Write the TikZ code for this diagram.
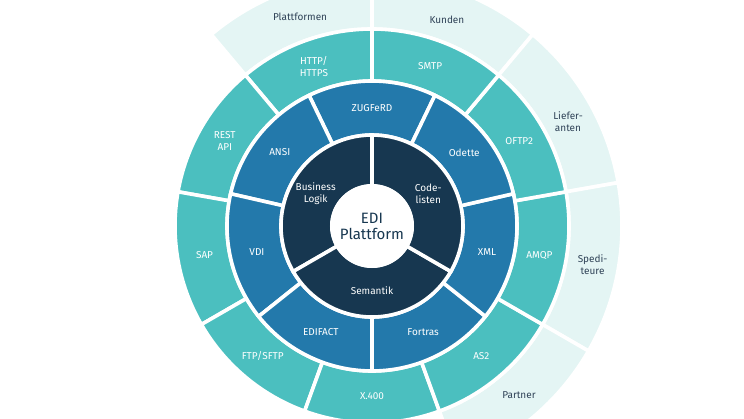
\documentclass[tikz,border=0pt]{standalone}
\usepackage{fontspec}
\setmainfont{Fira Sans}
\definecolor{lightc}{HTML}{E4F5F4}
\definecolor{tealc}{HTML}{4BBFBF}
\definecolor{bluec}{HTML}{2379AB}
\definecolor{darkc}{HTML}{173750}
\definecolor{labc}{HTML}{2F4257}
\newcommand\ringseg[5]{%
  \path[segstyle, fill=#1] (#4:#2pt) arc[start angle=#4, end angle=#5, radius=#2pt]
    -- (#5:#3pt) arc[start angle=#5, end angle=#4, radius=#3pt] -- cycle;}
\begin{document}
\begin{tikzpicture}[
  segstyle/.style={draw=white, line width=3.6pt, line join=miter},
  inlab/.style={text=white, font=\fontsize{10}{12}\selectfont, align=center, inner sep=0pt},
  outlab/.style={text=labc, font=\fontsize{10}{12}\selectfont, align=center, inner sep=0pt},
  centerlab/.style={text=darkc, font=\fontsize{15}{16}\selectfont, align=center, inner sep=0pt}
]
\useasboundingbox (-372pt,-192pt) rectangle (372pt,226pt);
\clip (-372pt,-192pt) rectangle (372pt,226pt);
% outer light ring
\ringseg{lightc}{197}{250}{90}{130}
\ringseg{lightc}{197}{250}{50}{90}
\ringseg{lightc}{197}{250}{10}{50}
\ringseg{lightc}{197}{250}{-30}{10}
\ringseg{lightc}{197}{250}{-70}{-30}
% teal ring
\foreach \a in {90,130,170,210,250,290,330,370,410}{
  \pgfmathsetmacro\b{\a+40}
  \ringseg{tealc}{145}{197}{\a}{\b}
}
% blue ring
\foreach \i in {0,...,6}{
  \pgfmathsetmacro\a{64.2857+51.4286*\i}
  \pgfmathsetmacro\b{\a+51.4286}
  \ringseg{bluec}{145}{91}{\a}{\b}
}
% dark ring
\ringseg{darkc}{40}{91}{90}{210}
\ringseg{darkc}{40}{91}{210}{330}
\ringseg{darkc}{40}{91}{-30}{90}
\fill[white] (0,0) circle (42pt);
% center
\node[centerlab] (edi) at (0,0) {EDI\\Plattform};
% dark labels
\node[inlab] (biz) at (150:65pt) {Business\\Logik};
\node[inlab] (code) at (30:65pt) {Code-\\listen};
\node[inlab] (sem) at (270:65pt) {Semantik};
% blue labels
\node[inlab] (zug) at (90:118pt) {ZUGFeRD};
\node[inlab] (ansi) at (141.43:118pt) {ANSI};
\node[inlab] (vdi) at (192.86:118pt) {VDI};
\node[inlab] (edifact) at (244.29:118pt) {EDIFACT};
\node[inlab] (fortras) at (295.71:118pt) {Fortras};
\node[inlab] (xml) at (347.14:118pt) {XML};
\node[inlab] (odette) at (38.57:118pt) {Odette};
% teal labels
\node[inlab] (http) at (110:170pt) {HTTP/\\HTTPS};
\node[inlab] (smtp) at (70:170pt) {SMTP};
\node[inlab] (oftp) at (30:170pt) {OFTP2};
\node[inlab] (amqp) at (-10:170pt) {AMQP};
\node[inlab] (as2) at (-50:170pt) {AS2};
\node[inlab] (x400) at (-90:170pt) {X.400};
\node[inlab] (ftp) at (-130:170pt) {FTP/SFTP};
\node[inlab] (sap) at (-170:170pt) {SAP};
\node[inlab] (rest) at (150:170pt) {REST\\API};
% light labels
\node[outlab] (plat) at (109:221pt) {Plattformen};
\node[outlab] (kunden) at (70:219pt) {Kunden};
\node[outlab] (lief) at (28:222pt) {Liefer-\\anten};
\node[outlab] (sped) at (-10:224pt) {Spedi-\\teure};
\node[outlab] (partner) at (-49:224pt) {Partner};
\end{tikzpicture}
\end{document}
